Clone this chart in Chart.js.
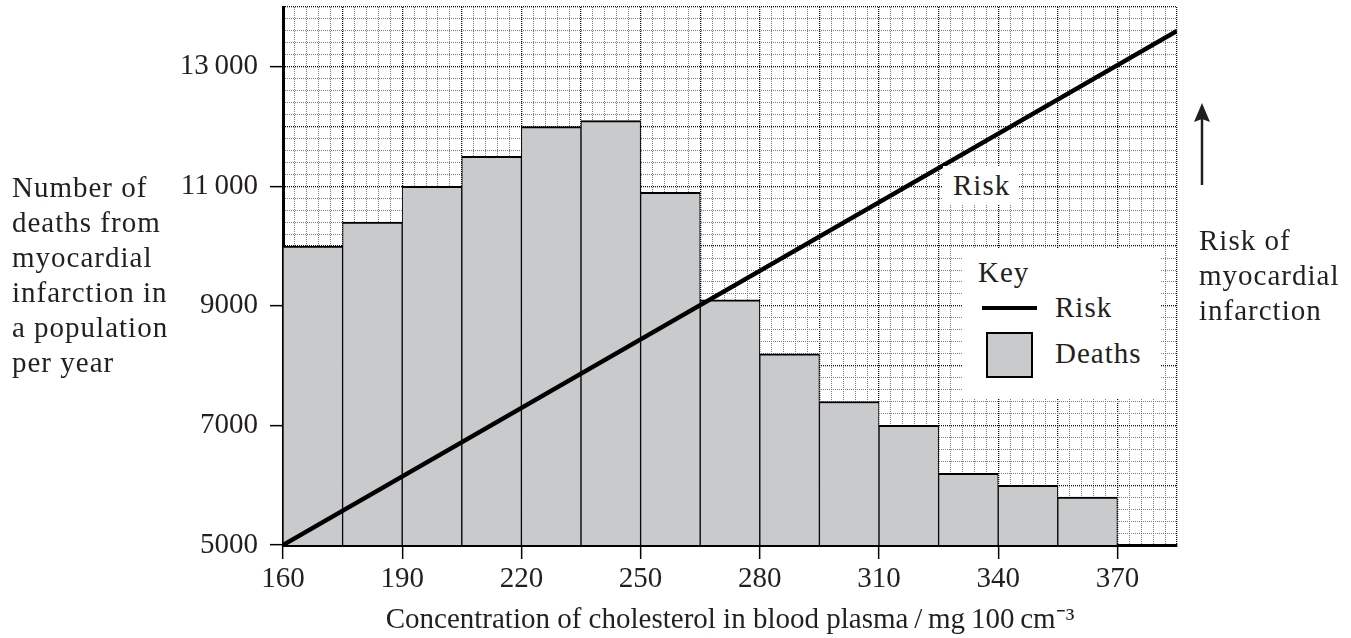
<!DOCTYPE html>
<html><head><meta charset="utf-8">
<script src="https://cdn.jsdelivr.net/npm/chart.js@4.4.1/dist/chart.umd.min.js"></script>
<style>
html,body{margin:0;padding:0;background:#fff;}
#wrap{position:relative;width:1351px;height:638px;overflow:hidden;}
#wrap canvas{position:absolute;left:0;top:0;}
.t{position:absolute;font-family:"Liberation Serif",serif;font-size:29px;line-height:35px;color:#231f20;white-space:nowrap;letter-spacing:1px;}
.box{position:absolute;background:#fff;}
</style></head><body>
<div id="wrap">
<canvas id="c"></canvas>
<div class="t" style="left:12px;top:169.7px;">Number of<br>deaths from<br>myocardial<br>infarction in<br>a population<br>per year</div>
<div class="box" style="left:943px;top:166px;width:75px;height:38px;"></div>
<div class="t" style="left:953px;top:167.7px;">Risk</div>
<div class="box" style="left:962px;top:248px;width:198px;height:150px;"></div>
<div class="t" style="left:978px;top:254.7px;">Key</div>
<div style="position:absolute;left:982px;top:306px;width:55px;height:4px;background:#000;"></div>
<div class="t" style="left:1055px;top:289.7px;">Risk</div>
<div style="position:absolute;left:986px;top:332px;width:47px;height:46px;box-sizing:border-box;border:2px solid #000;background:#c9cacc;"></div>
<div class="t" style="left:1055px;top:335.7px;">Deaths</div>
<svg style="position:absolute;left:1190px;top:98px;" width="24" height="92">
  <line x1="12" y1="20" x2="12" y2="87" stroke="#231f20" stroke-width="2.5"/>
  <polygon points="12,5 4,24 12,21 20,24" fill="#231f20"/>
</svg>
<div class="t" style="left:1199px;top:222.7px;">Risk of<br>myocardial<br>infarction</div>
</div>
<script>
// ---- data ----
const binStart = [160,175,190,205,220,235,250,265,280,295,310,325,340,355];
const binEnd   = [175,190,205,220,235,250,265,280,295,310,325,340,355,370];
const deaths   = [10000,10400,11000,11500,12000,12100,10900,9100,8200,7400,7000,6200,6000,5800];
const riskX = [160, 385];
const riskY = [5000, 13600];
const xTickValues = [160,190,220,250,280,310,340,370];
const yTickValues = [5000,7000,9000,11000,13000];
const yTickText   = ['5000','7000','9000','11\u2009000','13\u2009000'];
const xTitle = 'Concentration of cholesterol in blood plasma\u2009/\u2009mg\u2009100\u2009cm\u207B\u00B3';
const xMin = 160, xMax = 385, xMinorStep = 3, xMajorStep = 15;
const yMin = 5000, yMax = 14000, yMinorStep = 200, yMajorStep = 1000;

const cv = document.getElementById('c');
cv.width = 1351; cv.height = 638;
cv.style.width = '1351px'; cv.style.height = '638px';

Chart.defaults.font.family = '"Liberation Serif", serif';
Chart.defaults.color = '#231f20';

const ink = '#231f20';
const minorCol = '#7a7a7a', majorCol = '#111111';
const isXMajor = v => Math.abs(((v - xMin) % xMajorStep)) < 1e-6;
const isYMajor = v => Math.abs((v % yMajorStep)) < 1e-6;

const barData = binStart.map((s, i) => ({x: (s + binEnd[i]) / 2, y: [yMin, deaths[i]]}));
const riskData = riskX.map((x, i) => ({x, y: riskY[i]}));

new Chart(cv, {
  type: 'bar',
  data: {
    datasets: [
      {
        type: 'line', label: 'Risk', data: riskData, xAxisID: 'x', yAxisID: 'y',
        borderColor: '#000', borderWidth: 4.5, pointRadius: 0, fill: false, tension: 0,
        borderCapStyle: 'butt', order: 0
      },
      {
        type: 'bar', label: 'Deaths', data: barData, xAxisID: 'xb', yAxisID: 'y',
        backgroundColor: '#c9cacc', borderColor: '#000',
        borderWidth: {top: 2, left: 1, right: 1, bottom: 0}, borderSkipped: false,
        barPercentage: 1, categoryPercentage: 1, grouped: false, order: 1
      }
    ]
  },
  options: {
    responsive: false, animation: false,
    layout: {padding: {top: 7, right: 174, left: 0, bottom: 0}},
    plugins: {legend: {display: false}, tooltip: {enabled: false}},
    scales: {
      x: {
        type: 'linear', position: 'bottom', min: xMin, max: xMax, offset: false,
        afterFit: s => { s.height = 93; s.paddingLeft = 0; s.paddingRight = 0; },
        ticks: {
          stepSize: xMinorStep, autoSkip: false, maxRotation: 0, minRotation: 0,
          padding: 3, color: ink, font: {size: 29},
          callback: v => xTickValues.includes(v) ? String(v) : ''
        },
        grid: {
          offset: false, drawTicks: true, tickLength: 14, tickWidth: 1.5,
          tickColor: c => (c.tick && xTickValues.includes(c.tick.value)) ? '#000' : 'rgba(0,0,0,0)',
          color: c => (c.tick && isXMajor(c.tick.value)) ? majorCol : minorCol,
          lineWidth: c => (c.tick && isXMajor(c.tick.value)) ? 1.3 : 1
        },
        border: {display: true, color: '#000', width: 3,
          dash: c => c.tick ? [1, 1] : []},
        title: {display: true, text: xTitle, color: ink, font: {size: 29}, padding: {top: 0, bottom: 0}}
      },
      xb: {
        type: 'linear', position: 'bottom', display: false, min: xMin, max: xMax, offset: false,
        ticks: {stepSize: xMajorStep}, grid: {offset: false}
      },
      y: {
        type: 'linear', position: 'left', min: yMin, max: yMax, beginAtZero: false,
        afterFit: s => { s.width = 283; s.paddingTop = 0; s.paddingBottom = 0; },
        ticks: {
          stepSize: yMinorStep, autoSkip: false, padding: 12, color: ink, font: {size: 29},
          callback: v => { const i = yTickValues.indexOf(v); return i >= 0 ? yTickText[i] : ''; }
        },
        grid: {
          drawTicks: true, tickLength: 13, tickWidth: 1.5,
          tickColor: c => (c.tick && yTickValues.includes(c.tick.value)) ? '#000' : 'rgba(0,0,0,0)',
          color: c => (c.tick && isYMajor(c.tick.value)) ? majorCol : minorCol,
          lineWidth: c => (c.tick && isYMajor(c.tick.value)) ? 1.3 : 1
        },
        border: {display: true, color: '#000', width: 3,
          dash: c => c.tick ? [1, 1] : []}
      }
    }
  }
});
</script>
</body></html>
